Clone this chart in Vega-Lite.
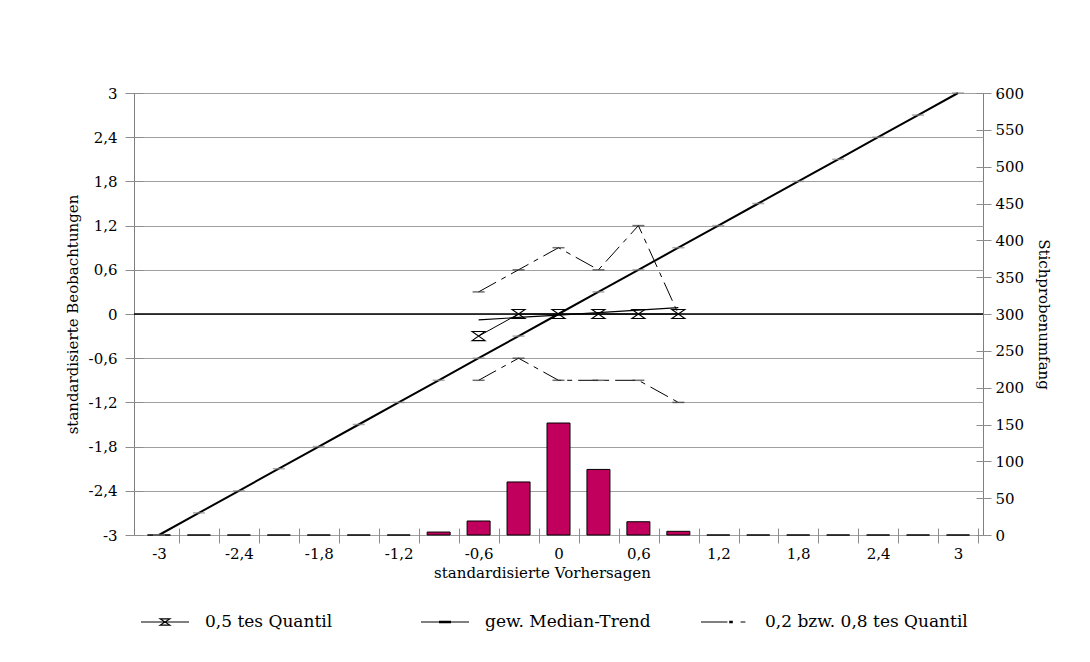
{
  "$schema": "https://vega.github.io/schema/vega-lite/v6.json",
  "width": 849,
  "height": 442,
  "autosize": "none",
  "padding": {"left": 134, "top": 93, "right": 107, "bottom": 127},
  "background": "white",
  "config": {
    "locale": {"number": {"decimal": ",", "thousands": ".", "grouping": [3], "currency": ["", " €"], "minus": "-"}},
    "view": {"stroke": "#7f7f7f", "strokeWidth": 1},
    "font": "DejaVu Serif",
    "axis": {
      "labelFont": "DejaVu Serif", "labelFontSize": 15, "labelColor": "#000",
      "titleFont": "DejaVu Serif", "titleFontSize": 15, "titleFontWeight": "normal", "titleColor": "#000",
      "tickColor": "#8c8c8c", "domain": false, "labelOverlap": false, "labelBound": false, "labelFlush": false
    }
  },
  "datasets": {
    "cats": [
      {"x": -3, "ideal": -3, "n": 0},
      {"x": -2.7, "ideal": -2.7, "n": 0},
      {"x": -2.4, "ideal": -2.4, "n": 0},
      {"x": -2.1, "ideal": -2.1, "n": 0},
      {"x": -1.8, "ideal": -1.8, "n": 0},
      {"x": -1.5, "ideal": -1.5, "n": 0},
      {"x": -1.2, "ideal": -1.2, "n": 0},
      {"x": -0.9, "ideal": -0.9, "n": 4},
      {"x": -0.6, "ideal": -0.6, "n": 19},
      {"x": -0.3, "ideal": -0.3, "n": 72},
      {"x": 0, "ideal": 0, "n": 152},
      {"x": 0.3, "ideal": 0.3, "n": 89},
      {"x": 0.6, "ideal": 0.6, "n": 18},
      {"x": 0.9, "ideal": 0.9, "n": 5},
      {"x": 1.2, "ideal": 1.2, "n": 0},
      {"x": 1.5, "ideal": 1.5, "n": 0},
      {"x": 1.8, "ideal": 1.8, "n": 0},
      {"x": 2.1, "ideal": 2.1, "n": 0},
      {"x": 2.4, "ideal": 2.4, "n": 0},
      {"x": 2.7, "ideal": 2.7, "n": 0},
      {"x": 3, "ideal": 3, "n": 0}
    ],
    "q": [
      {"x": -0.6, "y": -0.3, "line": "q50", "series": "0,5 tes Quantil"},
      {"x": -0.3, "y": 0, "line": "q50", "series": "0,5 tes Quantil"},
      {"x": 0, "y": 0, "line": "q50", "series": "0,5 tes Quantil"},
      {"x": 0.3, "y": 0, "line": "q50", "series": "0,5 tes Quantil"},
      {"x": 0.6, "y": 0, "line": "q50", "series": "0,5 tes Quantil"},
      {"x": 0.9, "y": 0, "line": "q50", "series": "0,5 tes Quantil"},
      {"x": -0.6, "y": -0.08, "line": "trend", "series": "gew. Median-Trend"},
      {"x": -0.3, "y": -0.047, "line": "trend", "series": "gew. Median-Trend"},
      {"x": 0, "y": -0.014, "line": "trend", "series": "gew. Median-Trend"},
      {"x": 0.3, "y": 0.019, "line": "trend", "series": "gew. Median-Trend"},
      {"x": 0.6, "y": 0.052, "line": "trend", "series": "gew. Median-Trend"},
      {"x": 0.9, "y": 0.086, "line": "trend", "series": "gew. Median-Trend"},
      {"x": -0.6, "y": 0.3, "line": "q80", "series": "0,2 bzw. 0,8 tes Quantil"},
      {"x": -0.3, "y": 0.6, "line": "q80", "series": "0,2 bzw. 0,8 tes Quantil"},
      {"x": 0, "y": 0.9, "line": "q80", "series": "0,2 bzw. 0,8 tes Quantil"},
      {"x": 0.3, "y": 0.6, "line": "q80", "series": "0,2 bzw. 0,8 tes Quantil"},
      {"x": 0.6, "y": 1.2, "line": "q80", "series": "0,2 bzw. 0,8 tes Quantil"},
      {"x": 0.9, "y": 0, "line": "q80", "series": "0,2 bzw. 0,8 tes Quantil"},
      {"x": -0.6, "y": -0.9, "line": "q20", "series": "0,2 bzw. 0,8 tes Quantil"},
      {"x": -0.3, "y": -0.6, "line": "q20", "series": "0,2 bzw. 0,8 tes Quantil"},
      {"x": 0, "y": -0.9, "line": "q20", "series": "0,2 bzw. 0,8 tes Quantil"},
      {"x": 0.3, "y": -0.9, "line": "q20", "series": "0,2 bzw. 0,8 tes Quantil"},
      {"x": 0.6, "y": -0.9, "line": "q20", "series": "0,2 bzw. 0,8 tes Quantil"},
      {"x": 0.9, "y": -1.2, "line": "q20", "series": "0,2 bzw. 0,8 tes Quantil"}
    ]
  },
  "layer": [
    {
      "data": {"name": "cats"},
      "mark": {"type": "bar", "width": 23, "fill": "#C0005C", "stroke": "#000", "strokeWidth": 1},
      "encoding": {
        "x": {
          "field": "x", "type": "quantitative",
          "scale": {"domain": [-3.15, 3.15], "nice": false, "zero": false},
          "axis": {
            "orient": "bottom",
            "title": "standardisierte Vorhersagen",
            "values": [-3.3, -3, -2.7, -2.4, -2.1, -1.8, -1.5, -1.2, -0.9, -0.6, -0.3, 0, 0.3, 0.6, 0.9, 1.2, 1.5, 1.8, 2.1, 2.4, 2.7, 3],
            "grid": false,
            "offset": -7,
            "tickSize": 15,
            "tickOffset": 20.2,
            "labelOffset": -20.2,
            "format": ".1~f",
            "labelExpr": "round(datum.value/0.3) % 2 == 0 ? datum.label : ''",
            "labelPadding": 3,
            "titleX": 408,
            "titleY": 49,
            "titleBaseline": "alphabetic",
            "titleAlign": "center"
          }
        },
        "y": {
          "field": "n", "type": "quantitative",
          "scale": {"domain": [0, 600], "nice": false},
          "axis": {
            "orient": "right",
            "title": "Stichprobenumfang",
            "values": [0, 50, 100, 150, 200, 250, 300, 350, 400, 450, 500, 550, 600],
            "grid": false,
            "offset": -7,
            "tickSize": 15,
            "format": "d",
            "labelPadding": 4,
            "titleX": 67,
            "titleY": 221,
            "titleAngle": 90,
            "titleBaseline": "middle",
            "titleAlign": "center"
          }
        }
      }
    },
    {
      "layer": [
        {
          "data": {"name": "cats"},
          "mark": {"type": "line", "color": "#000", "strokeWidth": 2},
          "encoding": {
            "x": {"field": "x", "type": "quantitative"},
            "y": {
              "field": "ideal", "type": "quantitative",
              "scale": {"domain": [-3, 3], "nice": false, "zero": false},
              "axis": {
                "orient": "left",
                "title": "standardisierte Beobachtungen",
                "values": [-3, -2.7, -2.4, -2.1, -1.8, -1.5, -1.2, -0.9, -0.6, -0.3, 0, 0.3, 0.6, 0.9, 1.2, 1.5, 1.8, 2.1, 2.4, 2.7, 3],
                "grid": true,
                "gridColor": "#a0a0a0",
                "gridOpacity": {"condition": {"test": "round(datum.value/0.3) % 2 != 0", "value": 0}, "value": 1},
                "offset": -9,
                "tickSize": 18,
                "tickDash": {"condition": {"test": "round(datum.value/0.3) % 2 != 0", "value": [0, 5, 8, 5]}, "value": [18, 0]},
                "format": ".1~f",
                "labelExpr": "round(datum.value/0.3) % 2 == 0 ? datum.label : ''",
                "labelPadding": 8,
                "titleX": -71,
                "titleY": 221,
                "titleAngle": -90,
                "titleBaseline": "middle",
                "titleAlign": "center"
              }
            }
          }
        },
        {
          "data": {"name": "cats"},
          "mark": {"type": "tick", "orient": "horizontal", "color": "#8a8a8a", "size": 12, "thickness": 1.5},
          "encoding": {
            "x": {"field": "x", "type": "quantitative"},
            "y": {"field": "ideal", "type": "quantitative"}
          }
        },
        {
          "data": {"values": [{"ref": 0}]},
          "mark": {"type": "rule", "color": "#000", "strokeWidth": 1.5},
          "encoding": {
            "y": {"field": "ref", "type": "quantitative"}
          }
        },
        {
          "data": {"name": "q"},
          "transform": [{"filter": "datum.line == 'q20' || datum.line == 'q80'"}],
          "mark": {"type": "line", "strokeWidth": 1, "strokeDash": [20, 6, 5, 6]},
          "encoding": {
            "x": {"field": "x", "type": "quantitative"},
            "y": {"field": "y", "type": "quantitative"},
            "color": {"field": "series", "type": "nominal"},
            "detail": {"field": "line"}
          }
        },
        {
          "data": {"name": "q"},
          "transform": [{"filter": "datum.line == 'q20' || datum.line == 'q80'"}],
          "mark": {"type": "tick", "orient": "horizontal", "color": "#333333", "size": 12, "thickness": 1.5},
          "encoding": {
            "x": {"field": "x", "type": "quantitative"},
            "y": {"field": "y", "type": "quantitative"}
          }
        },
        {
          "data": {"name": "q"},
          "transform": [{"filter": "datum.line == 'trend'"}],
          "mark": {"type": "line", "strokeWidth": 1.2},
          "encoding": {
            "x": {"field": "x", "type": "quantitative"},
            "y": {"field": "y", "type": "quantitative"},
            "color": {"field": "series", "type": "nominal"}
          }
        },
        {
          "data": {"name": "q"},
          "transform": [{"filter": "datum.line == 'q50'"}],
          "mark": {"type": "line", "strokeWidth": 1},
          "encoding": {
            "x": {"field": "x", "type": "quantitative"},
            "y": {"field": "y", "type": "quantitative"},
            "color": {
              "field": "series", "type": "nominal",
              "scale": {"domain": ["0,5 tes Quantil", "gew. Median-Trend", "0,2 bzw. 0,8 tes Quantil"], "range": ["#000000", "#000000", "#000000"]},
              "legend": {
                "title": null,
                "orient": "none",
                "legendX": 6,
                "legendY": 504,
                "direction": "horizontal",
                "columns": 3,
                "gridAlign": "all",
                "columnPadding": 10,
                "padding": 0,
                "symbolSize": 2304,
                "symbolStrokeWidth": 1.2,
                "symbolStrokeColor": "#000",
                "labelOffset": 15,
                "labelFont": "DejaVu Serif",
                "labelFontSize": 17,
                "labelColor": "#000",
                "labelLimit": 400,
                "encode": {
                  "symbols": {
                    "update": {
                      "shape": {"signal": "datum.value === '0,5 tes Quantil' ? 'M-1,0H1M-0.2,-0.13H0.2L-0.2,0.13H0.2Z' : (datum.value === 'gew. Median-Trend' ? 'M-1,0H1M-0.25,0.03H0.25M-0.25,-0.03H0.25' : 'M-1,0H0.1M0.2,-0.03H0.3V0.03H0.2ZM0.65,0H0.85')"}
                    }
                  }
                }
              }
            }
          }
        },
        {
          "data": {"name": "q"},
          "transform": [{"filter": "datum.line == 'q50'"}],
          "mark": {"type": "point", "filled": false, "shape": "M-1,-0.7H1L-1,0.7H1Z", "size": 169, "strokeWidth": 1.1, "opacity": 1},
          "encoding": {
            "x": {"field": "x", "type": "quantitative"},
            "y": {"field": "y", "type": "quantitative"},
            "color": {"field": "series", "type": "nominal"}
          }
        }
      ]
    }
  ],
  "resolve": {"scale": {"y": "independent"}}
}
